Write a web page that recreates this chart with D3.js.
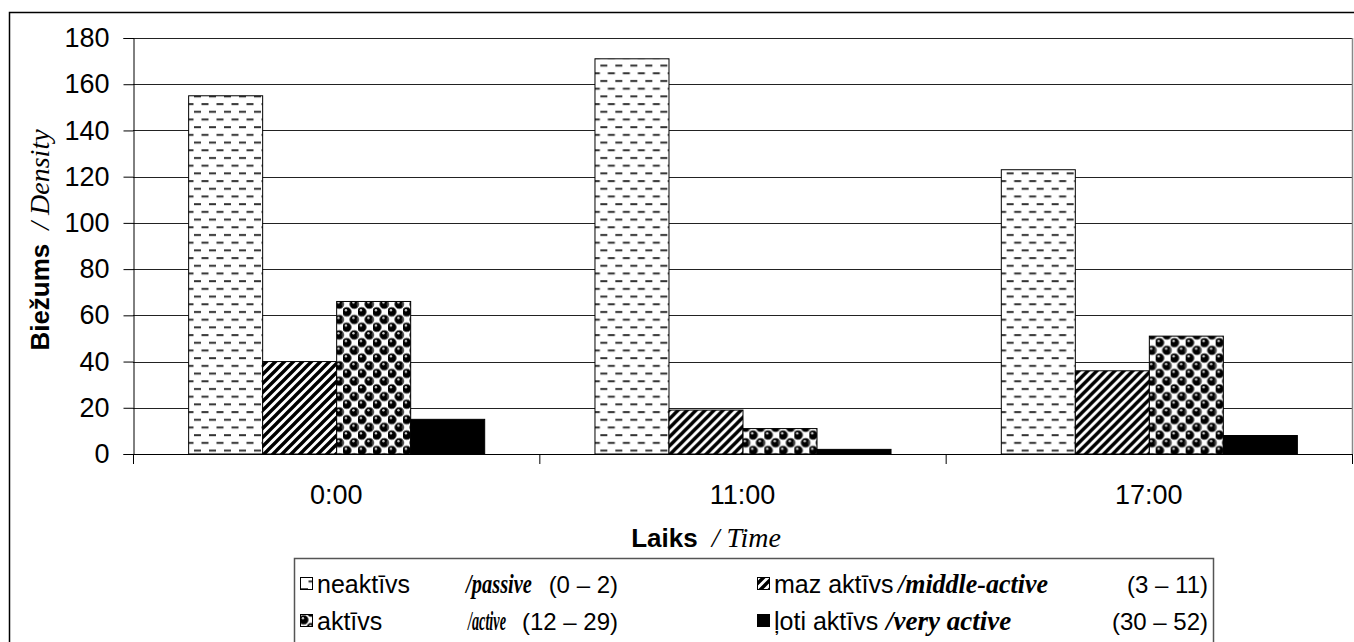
<!DOCTYPE html>
<html>
<head>
<meta charset="utf-8">
<script src="https://cdn.jsdelivr.net/npm/d3@7"></script>
<style>
  html, body { margin: 0; padding: 0; background: #fff; }
  svg { display: block; }
  .sans { font-family: "Liberation Sans", Arial, sans-serif; }
  .serif { font-family: "Liberation Serif", "Times New Roman", serif; font-style: italic; }
</style>
</head>
<body>
<svg id="chart" width="1354" height="642"></svg>
<script>
// Time of day groups and the four activity classes
const categories = ["0:00", "11:00", "17:00"];
const seriesNames = ["neaktīvs", "maz aktīvs", "aktīvs", "ļoti aktīvs"];
const passive      = [155, 171, 123];
const middleActive = [40, 19, 36];
const active       = [66, 11, 51];
const veryActive   = [15, 2, 8];
const yTicks = [0, 20, 40, 60, 80, 100, 120, 140, 160, 180];

const seriesValues = [passive, middleActive, active, veryActive];
const patternIds = ["pat-dash", "pat-diag", "pat-ball", "pat-solid"];

const svg = d3.select("#chart");
const plot = { left: 133, right: 1352, top: 38, bottom: 454 };

// ---------- fill patterns ----------
const defs = svg.append("defs");

// brick of short dashes
const pDash = defs.append("pattern").attr("id", "pat-dash")
  .attr("patternUnits", "userSpaceOnUse").attr("width", 15).attr("height", 15.4);
pDash.append("rect").attr("width", 15).attr("height", 15.4).attr("fill", "#fff");
[[1, 3], [8.5, 10.7], [-6.5, 10.7]].forEach(([dx, dy]) =>
  pDash.append("rect").attr("x", dx).attr("y", dy).attr("width", 7).attr("height", 2).attr("fill", "#333"));

// diagonal stripes
const pDiag = defs.append("pattern").attr("id", "pat-diag")
  .attr("patternUnits", "userSpaceOnUse").attr("width", 9).attr("height", 9);
pDiag.append("rect").attr("width", 9).attr("height", 9).attr("fill", "#fff");
pDiag.append("path").attr("d", "M-2,11 L11,-2 M-2,2 L2,-2 M7,11 L11,7")
  .attr("stroke", "#000").attr("stroke-width", 3.4);

// staggered shaded balls
const pBall = defs.append("pattern").attr("id", "pat-ball")
  .attr("patternUnits", "userSpaceOnUse").attr("width", 15).attr("height", 15.4);
pBall.append("rect").attr("width", 15).attr("height", 15.4).attr("fill", "#fff");
const ballCenters = [[3.75, 3.85], [11.25, 11.55], [-3.75, 11.55], [18.75, 11.55], [3.75, 19.25], [11.25, -3.85]];
pBall.selectAll("circle.b").data(ballCenters).join("circle").attr("class", "b")
  .attr("cx", d => d[0]).attr("cy", d => d[1]).attr("r", 4.6)
  .attr("fill", "#000").attr("stroke", "#666").attr("stroke-width", 0.8);
pBall.selectAll("circle.h").data(ballCenters).join("circle").attr("class", "h")
  .attr("cx", d => d[0] - 0.8).attr("cy", d => d[1] - 1.8).attr("r", 1.2)
  .attr("fill", "#ccc");

defs.append("pattern").attr("id", "pat-solid")
  .attr("patternUnits", "userSpaceOnUse").attr("width", 4).attr("height", 4)
  .append("rect").attr("width", 4).attr("height", 4).attr("fill", "#000");

// ---------- outer frame ----------
svg.append("path").attr("d", "M9.5,642 L9.5,12.5 L1354,12.5")
  .attr("fill", "none").attr("stroke", "#000").attr("stroke-width", 1.5);

// ---------- scales ----------
const x0 = d3.scaleBand().domain(categories).range([plot.left, plot.right]).padding(0);
const x1 = d3.scaleBand().domain(d3.range(seriesNames.length))
  .range([0, x0.bandwidth()]).paddingInner(0).paddingOuter(0.745);
const y = d3.scaleLinear().domain([0, 180]).range([plot.bottom, plot.top]);

// ---------- gridlines & plot border ----------
svg.append("g").selectAll("line").data(yTicks.filter(v => v > 0)).join("line")
  .attr("x1", plot.left).attr("x2", plot.right)
  .attr("y1", d => Math.round(y(d)) + 0.5).attr("y2", d => Math.round(y(d)) + 0.5)
  .attr("stroke", "#222").attr("stroke-width", 1);
svg.append("line").attr("x1", plot.right + 0.5).attr("x2", plot.right + 0.5)
  .attr("y1", plot.top).attr("y2", plot.bottom).attr("stroke", "#888").attr("stroke-width", 1.5);

// ---------- bars ----------
const groups = svg.append("g").selectAll("g").data(categories).join("g")
  .attr("transform", d => `translate(${x0(d)},0)`);
groups.selectAll("rect")
  .data((c, ci) => seriesValues.map((vals, si) => ({ si, v: vals[ci] })))
  .join("rect")
  .attr("x", d => x1(d.si) + 0.5)
  .attr("y", d => y(d.v))
  .attr("width", x1.bandwidth())
  .attr("height", d => y(0) - y(d.v))
  .attr("fill", d => `url(#${patternIds[d.si]})`)
  .attr("stroke", "#000").attr("stroke-width", 1);

// ---------- axes ----------
const yAxis = svg.append("g").attr("transform", `translate(${plot.left + 0.5},0)`)
  .call(d3.axisLeft(y).tickValues(yTicks).tickSize(10).tickPadding(14));
yAxis.select(".domain").attr("stroke", "#000");
yAxis.selectAll(".tick line").attr("stroke", "#000");
yAxis.selectAll(".tick text").attr("class", "sans").attr("font-size", 27).attr("fill", "#000");

const xBoundaries = categories.map(c => x0(c)).concat([plot.right]);
svg.append("line").attr("x1", plot.left).attr("x2", plot.right)
  .attr("y1", plot.bottom + 0.5).attr("y2", plot.bottom + 0.5).attr("stroke", "#000");
svg.append("g").selectAll("line").data(xBoundaries).join("line")
  .attr("x1", d => d + 0.5).attr("x2", d => d + 0.5)
  .attr("y1", plot.bottom).attr("y2", plot.bottom + 10).attr("stroke", "#000");
svg.append("g").selectAll("text").data(categories).join("text")
  .attr("class", "sans").attr("font-size", 27).attr("text-anchor", "middle")
  .attr("x", d => x0(d) + x0.bandwidth() / 2).attr("y", 504)
  .text(d => d);

// ---------- axis titles ----------
const xTitle = svg.append("text").attr("x", 706).attr("y", 547).attr("text-anchor", "middle");
xTitle.append("tspan").attr("class", "sans").attr("font-weight", "bold").attr("font-size", 26).text("Laiks");
xTitle.append("tspan").attr("class", "serif").attr("font-size", 28).attr("dx", 14).text("/ Time");

const yTitle = svg.append("text").attr("transform", "translate(49,240) rotate(-90)").attr("text-anchor", "middle");
yTitle.append("tspan").attr("class", "sans").attr("font-weight", "bold").attr("font-size", 26).text("Biežums");
yTitle.append("tspan").attr("class", "serif").attr("font-size", 28).attr("dx", 14).text("/ Density");

// ---------- legend ----------
svg.append("rect").attr("x", 294.5).attr("y", 558.5).attr("width", 919).attr("height", 100)
  .attr("fill", "#fff").attr("stroke", "#555").attr("stroke-width", 1.5);

const legendItems = [
  { si: 0, col: 0, row: 0, lv: "neaktīvs", en: "/passive", range: "(0 – 2)", enX: 466, enW: 66 },
  { si: 1, col: 1, row: 0, lv: "maz aktīvs", en: "/middle-active", range: "(3 – 11)", enX: 898, enW: 150 },
  { si: 2, col: 0, row: 1, lv: "aktīvs", en: "/active", range: "(12 – 29)", enX: 468, enW: 38 },
  { si: 3, col: 1, row: 1, lv: "ļoti aktīvs", en: "/very active", range: "(30 – 52)", enX: 886, enW: 128 }
];
const colX = [300, 757];
const colEnd = [618, 1208];
const rowY = [584, 621];

const li = svg.append("g").selectAll("g").data(legendItems).join("g");
li.append("rect")
  .attr("x", d => colX[d.col] + 0.5).attr("y", d => rowY[d.row] - 6.5)
  .attr("width", 12).attr("height", 12)
  .attr("fill", d => `url(#${patternIds[d.si]})`).attr("stroke", "#000").attr("stroke-width", 1);
li.append("text").attr("class", "sans").attr("font-size", 25)
  .attr("x", d => colX[d.col] + 17).attr("y", d => rowY[d.row] + 9).text(d => d.lv);
// condensed italic English names: squeeze horizontally to the wanted width
li.append("text").attr("class", "serif").attr("font-size", 27).attr("font-weight", "bold")
  .text(d => d.en)
  .attr("transform", function (d) {
    const natural = this.getComputedTextLength() || d.enW;
    const sx = Math.min(1, d.enW / natural);
    return `translate(${d.enX},${rowY[d.row] + 9}) scale(${sx},1)`;
  });
li.append("text").attr("class", "sans").attr("font-size", 24).attr("text-anchor", "end")
  .attr("x", d => colEnd[d.col]).attr("y", d => rowY[d.row] + 9).text(d => d.range);
</script>
</body>
</html>
